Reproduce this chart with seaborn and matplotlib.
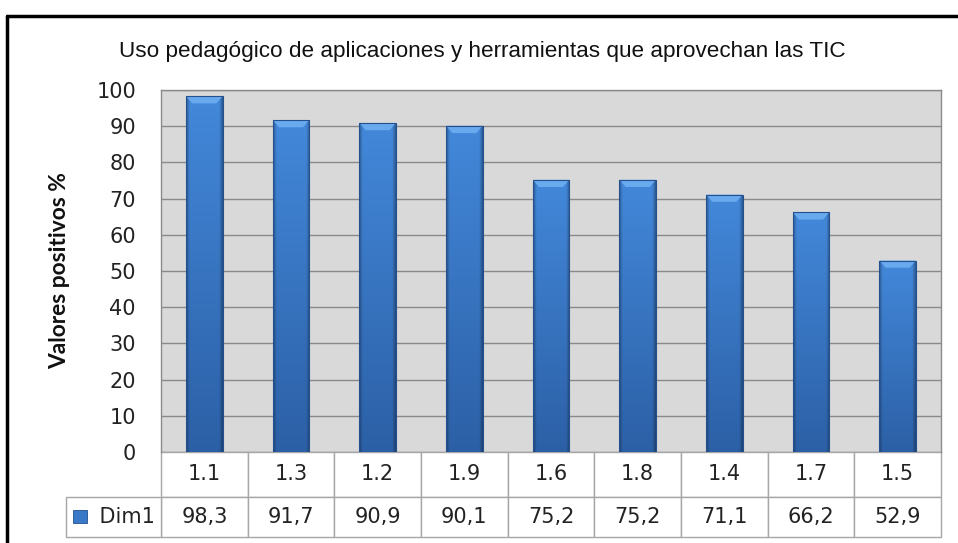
import numpy as np
import pandas as pd
import matplotlib
matplotlib.use("Agg")
import matplotlib.pyplot as plt
import seaborn as sns
from matplotlib.patches import Rectangle, Polygon
from matplotlib.colors import to_rgb

# data
categorias = ["1.1", "1.3", "1.2", "1.9", "1.6", "1.8", "1.4", "1.7", "1.5"]
valores = [98.3, 91.7, 90.9, 90.1, 75.2, 75.2, 71.1, 66.2, 52.9]
serie = "Dim1"
titulo = "Uso pedagógico de aplicaciones y herramientas que aprovechan las TIC"
ylab = "Valores positivos %"

df = pd.DataFrame({"cat": categorias, "val": valores})

sns.set_style("white")
plt.rcParams["font.family"] = ["DejaVu Sans"]

fig = plt.figure(figsize=(9.58, 5.43), dpi=100)
ax = fig.add_axes([161 / 958, 1 - 452 / 543, 780 / 958, 362 / 543])

sns.barplot(data=df, x="cat", y="val", color="#3a78c8", width=0.42,
            edgecolor="#23508e", linewidth=0.8, ax=ax, zorder=3)

# shading so the bars look like the Excel bevelled columns
c_top = np.array(to_rgb("#4388da"))
c_bot = np.array(to_rgb("#2c60a6"))
bevel = "#69a9ee"
for p in ax.patches:
    x0, y0 = p.get_x(), p.get_y()
    w, h = p.get_width(), p.get_height()
    ny, nx = 100, 40
    yy = np.linspace(0, 1, ny)[:, None]          # 0 top, 1 bottom
    xx = np.linspace(0, 1, nx)[None, :]
    col = c_top[None, None, :] * (1 - yy[..., None]) + c_bot[None, None, :] * yy[..., None]
    edge = np.clip(1 - np.minimum(xx, 1 - xx) / 0.09, 0, 1)
    fac = 1 - 0.32 * edge
    img = np.clip(col * fac[..., None], 0, 1)
    im = ax.imshow(img, aspect="auto", extent=[x0, x0 + w, y0, y0 + h],
                   zorder=3.5, interpolation="bilinear")
    im.set_clip_path(p)
    dx = w * 0.17
    dy = 2.0
    bev = Polygon([[x0, y0 + h], [x0 + w, y0 + h], [x0 + w - dx, y0 + h - dy],
                   [x0 + dx, y0 + h - dy]], closed=True, facecolor=bevel,
                  edgecolor="none", zorder=3.6)
    ax.add_patch(bev)
    p.set_zorder(3.7)
    p.set_facecolor("none")

ax.set_xlim(-0.5, len(categorias) - 0.5)
ax.set_ylim(0, 100)
ax.set_yticks(range(0, 101, 10))
ax.set_facecolor("#d9d9d9")
ax.grid(axis="y", color="#8a8a8a", linewidth=1.0, zorder=0)
ax.set_axisbelow(True)
for s in ax.spines.values():
    s.set_color("#8a8a8a")
    s.set_linewidth(1.0)
ax.spines["bottom"].set_visible(False)
ax.tick_params(axis="y", length=0, pad=18, labelsize=15, labelcolor="#222222")
for t in ax.get_yticklabels():
    t.set_family("DejaVu Sans")
ax.set_xticks([])
ax.set_xlabel("")
ax.set_ylabel("")

# data table under the plot
h1 = 45 / 362
h2 = 40 / 362
tab = ax.table(cellText=[categorias, [f"{v:.1f}".replace(".", ",") for v in valores]],
               cellLoc="center", bbox=[0, -(h1 + h2), 1, h1 + h2])
tab.auto_set_font_size(False)
for (r, c), cell in tab.get_celld().items():
    cell.set_edgecolor("#a6a6a6")
    cell.set_linewidth(1.0)
    cell.get_text().set_fontsize(15)
    cell.get_text().set_family("DejaVu Sans")
    cell.get_text().set_color("#222222")
    cell.set_height(h1 if r == 0 else h2)

wl = 95 / 780
leg = ax.table(cellText=[["    " + serie]], cellLoc="center",
               bbox=[-wl, -(h1 + h2), wl, h2])
leg.auto_set_font_size(False)
for cell in leg.get_celld().values():
    cell.set_edgecolor("#a6a6a6")
    cell.get_text().set_fontsize(15)
    cell.get_text().set_family("DejaVu Sans")
    cell.get_text().set_color("#222222")
ax.add_patch(Rectangle((-wl + 7 / 780, -(h1 + h2) + 14 / 362), 14 / 780, 13 / 362,
                       transform=ax.transAxes, clip_on=False,
                       facecolor="#3a78c8", edgecolor="#23508e", lw=0.6,
                       zorder=5))

fig.text(0.503, 1 - 51 / 543, titulo, ha="center", va="center",
         fontsize=16.2, family=["Liberation Sans", "DejaVu Sans"], color="#111111")
fig.text(60 / 958, 1 - 271 / 543, ylab, ha="center", va="center",
         rotation=90, fontsize=16.4, fontweight="bold",
         family=["Lato", "DejaVu Sans"], color="#111111")

# outer frame (left and top edges in the image)
fig.add_artist(plt.Line2D([7 / 958, 7 / 958], [0, 1 - 16 / 543],
                          transform=fig.transFigure, color="black", lw=2.5))
fig.add_artist(plt.Line2D([7 / 958, 1], [1 - 16 / 543, 1 - 16 / 543],
                          transform=fig.transFigure, color="black", lw=2.5))

fig.savefig("out.png", dpi=100)
